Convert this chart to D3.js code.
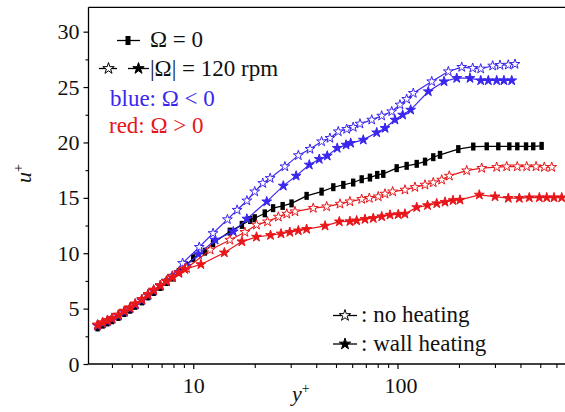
<!DOCTYPE html>
<html>
<head>
<meta charset="utf-8">
<script src="https://cdn.jsdelivr.net/npm/d3@7"></script>
<style>
  html, body { margin: 0; padding: 0; background: #fff; }
  svg { display: block; }
  svg text { font-family: "Liberation Serif", Tinos, "DejaVu Serif", "Noto Serif", "Times New Roman", Times, serif; }
</style>
</head>
<body>
<svg id="chart" width="565" height="412"></svg>
<script>
// Mean velocity profiles u+ versus y+ (log scale)
const yTicks = [0, 5, 10, 15, 20, 25, 30];
const yMinorTicks = [2.5, 7.5, 12.5, 17.5, 22.5, 27.5];
const xTickLabels = [10, 100];
const xMinorTicks = [4, 5, 6, 7, 8, 9, 20, 30, 40, 50, 60, 70, 80, 90, 200, 300, 400, 500, 600];

// Omega = 0
const yPlusZero = [3.4, 3.6, 3.8, 4.0, 4.3, 4.6, 4.9, 5.2, 5.6, 6.0, 6.4, 6.9, 7.4, 7.9, 8.5, 9.2, 10.0, 11.4, 12.5, 15.1, 17.3, 19.0, 20.0, 22.4, 24.6, 27.4, 30.3, 35.9, 42.5, 48.5, 54.3, 60.7, 66.8, 73.3, 79.6, 85.2, 99.1, 110.9, 124.2, 136.4, 149.7, 161.5, 198.5, 235, 273.5, 311.6, 352.8, 386, 426, 462, 508];
const uZero = [3.3, 3.55, 3.75, 3.95, 4.25, 4.6, 4.9, 5.25, 5.65, 6.1, 6.5, 6.95, 7.4, 7.8, 8.3, 8.9, 9.55, 10.14, 10.9, 11.95, 12.56, 13.0, 13.16, 13.6, 14.07, 14.27, 14.5, 15.18, 15.56, 15.96, 16.17, 16.38, 16.68, 16.83, 17.07, 17.16, 17.68, 17.89, 18.07, 18.27, 18.67, 18.88, 19.4, 19.63, 19.65, 19.65, 19.65, 19.65, 19.65, 19.65, 19.69];

// |Omega| = 120 rpm, Omega < 0, no heating
const yPlusNegCold = [3.4, 3.6, 3.8, 4.0, 4.3, 4.6, 4.9, 5.2, 5.6, 6.0, 6.4, 6.9, 7.4, 7.9, 8.87, 10.7, 12.5, 14.7, 16.4, 18.3, 20.0, 21.9, 23.8, 28.1, 32.7, 37.3, 42.5, 46.7, 51.3, 56.4, 60.7, 65.5, 74.8, 83.7, 93.7, 102.8, 110.9, 119.5, 147.1, 177.4, 206.3, 233.5, 255.6, 292.5, 317.7, 348.8, 376.2];
const uNegCold = [3.5, 3.7, 3.9, 4.1, 4.4, 4.75, 5.05, 5.4, 5.8, 6.25, 6.65, 7.1, 7.5, 7.95, 9.1, 10.55, 11.8, 13.05, 13.9, 14.74, 15.56, 16.32, 16.77, 17.82, 18.83, 19.4, 20.08, 20.39, 20.98, 21.2, 21.38, 21.68, 22.04, 22.4, 22.79, 23.4, 23.91, 24.45, 25.5, 26.4, 26.8, 26.71, 26.65, 26.92, 26.98, 27.0, 27.07];

// |Omega| = 120 rpm, Omega < 0, wall heating
const yPlusNegHot = [3.4, 3.6, 3.8, 4.0, 4.3, 4.6, 4.9, 5.2, 5.6, 6.0, 6.4, 6.9, 7.4, 7.9, 8.5, 9.2, 10.6, 12.8, 15.7, 18.3, 22.9, 27.6, 31.9, 37.0, 41.4, 45.3, 50.7, 56.0, 59.0, 68.0, 79.1, 86.9, 97.2, 106, 116, 141.5, 169, 195, 226.5, 255.6, 278.5, 306, 332, 362.5];
const uNegHot = [3.45, 3.65, 3.85, 4.05, 4.35, 4.7, 5.0, 5.35, 5.75, 6.2, 6.6, 7.05, 7.45, 7.85, 8.3, 8.85, 9.9, 11.2, 11.95, 13.1, 14.66, 16.08, 16.98, 17.98, 18.49, 18.79, 19.49, 19.78, 19.94, 20.23, 20.89, 21.29, 22.04, 22.49, 22.94, 24.6, 25.5, 25.8, 25.8, 25.59, 25.59, 25.59, 25.59, 25.59];

// |Omega| = 120 rpm, Omega > 0, no heating
const yPlusPosCold = [3.4, 3.6, 3.8, 4.0, 4.3, 4.6, 4.9, 5.2, 5.6, 6.0, 6.4, 6.9, 7.4, 7.9, 8.5, 9.28, 12.1, 15.1, 17.9, 20.4, 23.1, 26.1, 28.7, 31.5, 38.7, 45.0, 52.3, 58.5, 66.8, 72.8, 80.5, 86.9, 94.7, 108.8, 121.8, 136.4, 149.7, 164.6, 179.4, 218.2, 258.5, 306, 342.6, 386, 429, 477, 523.5, 569];
const uPosCold = [3.55, 3.75, 3.95, 4.15, 4.45, 4.8, 5.1, 5.45, 5.85, 6.3, 6.7, 7.1, 7.5, 7.9, 8.25, 8.64, 10.3, 11.2, 11.9, 12.56, 12.85, 13.28, 13.55, 13.76, 14.07, 14.21, 14.45, 14.66, 14.88, 14.97, 15.11, 15.36, 15.56, 15.72, 15.96, 16.17, 16.38, 16.62, 16.98, 17.46, 17.68, 17.77, 17.82, 17.82, 17.82, 17.82, 17.77, 17.77];

// |Omega| = 120 rpm, Omega > 0, wall heating
const yPlusPosHot = [3.4, 3.6, 3.8, 4.0, 4.3, 4.6, 4.9, 5.2, 5.6, 6.0, 6.4, 6.9, 7.4, 7.9, 8.5, 9.1, 10.9, 14.2, 17.3, 20.4, 23.9, 26.9, 29.7, 32.7, 35.9, 44.2, 51.9, 58.5, 63.1, 69.3, 76.1, 83.7, 91.9, 100.9, 108.8, 124.2, 140.3, 155.6, 170.9, 187, 202.4, 251.6, 300.3, 348.8, 395, 442, 495, 538, 584, 637];
const uPosHot = [3.5, 3.7, 3.9, 4.1, 4.4, 4.75, 5.05, 5.4, 5.8, 6.25, 6.65, 7.05, 7.45, 7.8, 8.2, 8.55, 8.99, 10.05, 11.05, 11.47, 11.62, 11.76, 11.9, 12.04, 12.17, 12.47, 12.85, 12.87, 12.94, 13.07, 13.16, 13.31, 13.46, 13.5, 13.55, 14.14, 14.32, 14.49, 14.62, 14.77, 14.81, 15.27, 15.11, 14.97, 14.97, 15.02, 15.02, 15.02, 15.02, 15.02];

const blue = "#3a26ee";
const red = "#e8161a";
const black = "#000000";
const serif = '"Liberation Serif", Tinos, "DejaVu Serif", "Noto Serif", "Times New Roman", Times, serif';

const svg = d3.select("#chart");
const plotLeft = 88.5, plotRight = 565, plotTop = 7.3, plotBottom = 364;

const x = d3.scaleLog().domain([3.07, 661]).range([plotLeft, plotRight]);
const y = d3.scaleLinear().domain([0, 32.2]).range([plotBottom, plotTop]);

// Frame: left, bottom and top lines
svg.append("line").attr("x1", plotLeft).attr("x2", plotLeft).attr("y1", plotTop).attr("y2", plotBottom)
  .attr("stroke", "#000").attr("stroke-width", 1.3);
svg.append("line").attr("x1", plotLeft).attr("x2", 570).attr("y1", plotBottom).attr("y2", plotBottom)
  .attr("stroke", "#000").attr("stroke-width", 1.3);
svg.append("line").attr("x1", plotLeft).attr("x2", 570).attr("y1", plotTop).attr("y2", plotTop)
  .attr("stroke", "#000").attr("stroke-width", 1.3);

// Y axis
const yAxis = d3.axisLeft(y).tickValues(yTicks).tickSize(5).tickPadding(4).tickFormat(d3.format("d"));
const gy = svg.append("g").attr("transform", `translate(${plotLeft},0)`).call(yAxis)
  .attr("font-family", serif).attr("font-size", 22);
gy.select(".domain").remove();
gy.selectAll("text").attr("fill", "#111");
gy.selectAll("line").attr("stroke-width", 1.2);
const gym = svg.append("g").attr("transform", `translate(${plotLeft},0)`)
  .call(d3.axisLeft(y).tickValues(yMinorTicks).tickSize(3).tickFormat(""));
gym.select(".domain").remove();
gym.selectAll("line").attr("stroke-width", 1.1);

// X axis
const xAxis = d3.axisBottom(x).tickValues(xTickLabels).tickSize(5).tickPadding(8).tickFormat(d3.format("d"));
const gx = svg.append("g").attr("transform", `translate(0,${plotBottom})`).call(xAxis)
  .attr("font-family", serif).attr("font-size", 22);
gx.select(".domain").remove();
gx.selectAll("text").attr("fill", "#111").attr("dx", d => d === 100 ? 3 : 0);
gx.selectAll("line").attr("stroke-width", 1.2);
const gxm = svg.append("g").attr("transform", `translate(0,${plotBottom})`)
  .call(d3.axisBottom(x).tickValues(xMinorTicks).tickSize(4).tickFormat(""));
gxm.select(".domain").remove();
gxm.selectAll("line").attr("stroke-width", 1.1);

// Axis titles
const yTitle = svg.append("text").attr("transform", "translate(31,183) rotate(-90)")
  .attr("font-family", serif).attr("font-size", 22).attr("font-style", "italic").attr("fill", "#111");
yTitle.append("tspan").text("u");
yTitle.append("tspan").attr("dy", -8).attr("font-size", 14).attr("font-style", "normal").text("+");

const xTitle = svg.append("text").attr("x", 292).attr("y", 401)
  .attr("font-family", serif).attr("font-size", 22).attr("font-style", "italic").attr("fill", "#111");
xTitle.append("tspan").text("y");
xTitle.append("tspan").attr("dy", -8).attr("font-size", 14).attr("font-style", "normal").text("+");

// Curves
const line = d3.line().x(d => x(d[0])).y(d => y(d[1]));
const star = d3.symbol().type(d3.symbolStar);

function drawSeries(xs, us, color, kind) {
  const pts = xs.map((v, i) => [v, us[i]]);
  const g = svg.append("g");
  g.append("path").datum(pts).attr("d", line)
    .attr("fill", "none").attr("stroke", color).attr("stroke-width", 1.2);
  if (kind === "square") {
    g.selectAll("rect").data(pts).join("rect")
      .attr("x", d => x(d[0]) - 2.2).attr("y", d => y(d[1]) - 4)
      .attr("width", 4.4).attr("height", 8).attr("fill", color);
  } else {
    g.selectAll("path.m").data(pts).join("path").attr("class", "m")
      .attr("transform", d => `translate(${x(d[0])},${y(d[1])})`)
      .attr("d", star.size(30)())
      .attr("fill", kind === "hollow" ? "#fff" : color)
      .attr("stroke", color).attr("stroke-width", 1)
      .attr("stroke-linejoin", "miter");
  }
}

drawSeries(yPlusZero, uZero, black, "square");
drawSeries(yPlusNegHot, uNegHot, blue, "filled");
drawSeries(yPlusNegCold, uNegCold, blue, "hollow");
drawSeries(yPlusPosCold, uPosCold, red, "hollow");
drawSeries(yPlusPosHot, uPosHot, red, "filled");

// Legend (upper left)
const lg = svg.append("g").attr("font-family", serif).attr("font-size", 23);
function legendLine(x1, x2, yy) {
  lg.append("line").attr("x1", x1).attr("x2", x2).attr("y1", yy).attr("y2", yy)
    .attr("stroke", "#000").attr("stroke-width", 1.3);
}
function legendStar(cx, cy, filled) {
  lg.append("path").attr("transform", `translate(${cx},${cy})`)
    .attr("d", star.size(40)())
    .attr("fill", filled ? "#000" : "#fff").attr("stroke", "#000").attr("stroke-width", 1);
}
legendLine(117, 140, 40.5);
lg.append("rect").attr("x", 125.5).attr("y", 36).attr("width", 5).attr("height", 9).attr("fill", "#000");
lg.append("text").attr("x", 150).attr("y", 47).attr("fill", "#111").text("Ω = 0");

legendLine(99, 117, 68.5);
legendStar(108.5, 68.5, false);
legendLine(128, 149, 68.5);
legendStar(138.5, 68.5, true);
lg.append("text").attr("x", 150).attr("y", 75.5).attr("fill", "#111").text("|Ω| = 120 rpm");

lg.append("text").attr("x", 110).attr("y", 106).attr("fill", blue).text("blue: Ω < 0");
lg.append("text").attr("x", 109).attr("y", 133).attr("fill", red).text("red: Ω > 0");

// Legend (lower right)
legendLine(333, 357, 315.5);
legendStar(345, 315.5, false);
lg.append("text").attr("x", 361).attr("y", 322).attr("fill", "#111").text(": no heating");
legendLine(333, 357, 344);
legendStar(345, 344, true);
lg.append("text").attr("x", 361).attr("y", 350.5).attr("fill", "#111").text(": wall heating");
</script>
</body>
</html>
